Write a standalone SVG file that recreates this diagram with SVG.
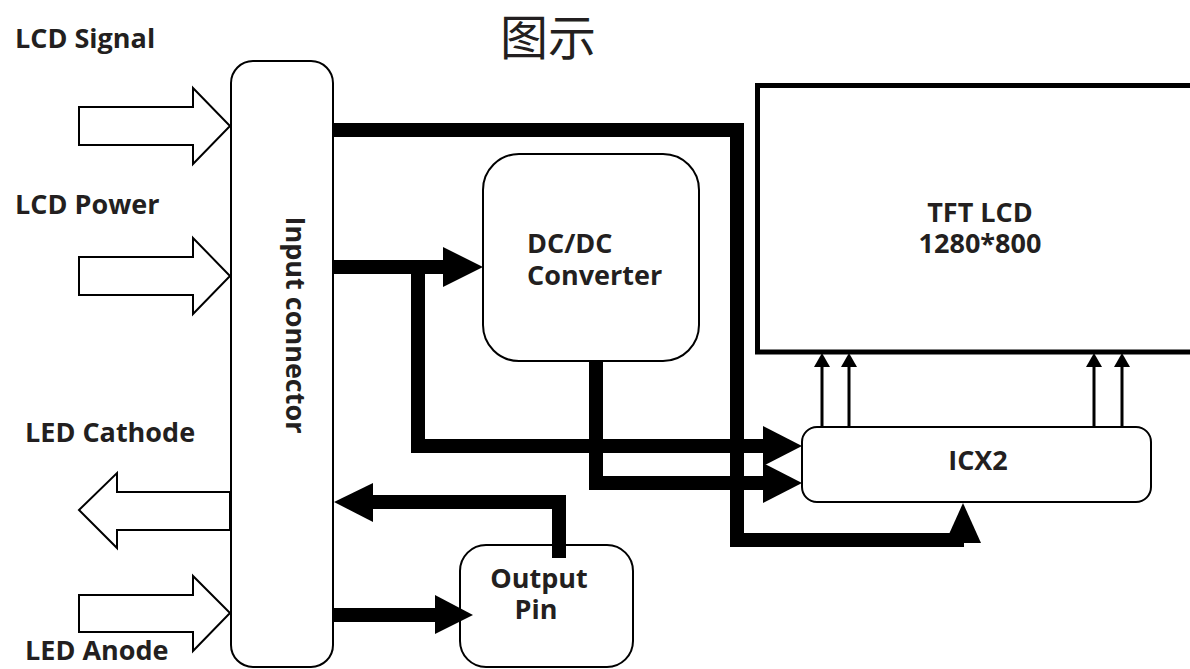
<svg xmlns="http://www.w3.org/2000/svg" width="1190" height="669" viewBox="0 0 1190 669">
<style>
.lbl{font-family:"Open Sans","Noto Sans","Liberation Sans",sans-serif;font-weight:bold;font-size:27px;fill:#231f20}
.box{fill:#fff;stroke:#000;stroke-width:2}
.fat{fill:#fff;stroke:#000;stroke-width:2;stroke-linejoin:miter}
.thick{fill:none;stroke:#000;stroke-width:14;stroke-linejoin:miter;stroke-linecap:butt}
.thin{fill:none;stroke:#000;stroke-width:3}
.head{fill:#000;stroke:none}
</style>
<rect width="1190" height="669" fill="#fff"/>
<text x="548" y="55" text-anchor="middle" style="font-family:'Noto Sans CJK SC',sans-serif;font-size:48px;fill:#231f20">图示</text>

<g id="lcd-signal">
<polygon class="fat" points="79,107 193,107 193,88 230,126 193,164 193,145 79,145"/>
<text class="lbl" x="15" y="48">LCD Signal</text>
</g>
<g id="lcd-power">
<polygon class="fat" points="79,257 193,257 193,238 230,276 193,314 193,295 79,295"/>
<text class="lbl" x="15" y="214">LCD Power</text>
</g>
<g id="led-cathode">
<polygon class="fat" points="230,492 117,492 117,473 79,510 117,548 117,530 230,530"/>
<text class="lbl" x="25" y="442">LED Cathode</text>
</g>
<g id="led-anode">
<polygon class="fat" points="79,595 193,595 193,576 230,613 193,651 193,632 79,632"/>
<text class="lbl" x="25" y="660">LED Anode</text>
</g>

<g id="input-connector">
<rect class="box" x="231" y="61" width="102" height="606" rx="22"/>
<text class="lbl" transform="translate(286,325) rotate(90)" text-anchor="middle">Input connector</text>
</g>

<g id="tft-lcd">
<rect x="757.5" y="85.5" width="460" height="266.5" fill="#fff" stroke="#000" stroke-width="5"/>
<text class="lbl" text-anchor="middle"><tspan x="980" y="222">TFT LCD</tspan><tspan x="980" dy="31">1280*800</tspan></text>
</g>

<g id="dcdc">
<rect class="box" x="483" y="154" width="216" height="207" rx="36"/>
<text class="lbl"><tspan x="527" y="253">DC/DC</tspan><tspan x="527" dy="32">Converter</tspan></text>
</g>

<g id="icx2">
<rect class="box" x="802" y="427" width="349" height="75" rx="15"/>
<text class="lbl" x="978" y="470" text-anchor="middle">ICX2</text>
</g>

<g id="output-pin">
<rect class="box" x="460" y="545" width="173" height="122" rx="26"/>
<text class="lbl" text-anchor="middle"><tspan x="539" y="588">Output</tspan><tspan x="536" dy="31">Pin</tspan></text>
</g>

<g id="connectors">
<path class="thick" d="M333,130 H737 V540 H964"/>
<polygon class="head" points="945,543 981,543 963,503"/>
<path class="thick" d="M333,267 H446"/>
<polygon class="head" points="443,247 483,267 443,287"/>
<path class="thick" d="M418,267 V446 H766"/>
<polygon class="head" points="763,426 802,446 763,466"/>
<path class="thick" d="M596,361 V483 H766"/>
<polygon class="head" points="763,463 802,483 763,503"/>
<path class="thick" d="M559,558 V502 H370"/>
<polygon class="head" points="373,483 334,502 373,522"/>
<path class="thick" d="M333,615 H438"/>
<polygon class="head" points="435,595 473,615 435,634"/>
<path class="thin" d="M822,427 V365 M849,427 V365 M1094,427 V365 M1122,427 V365"/>
<polygon class="head" points="814,367 822,353 830,367"/>
<polygon class="head" points="841,367 849,353 857,367"/>
<polygon class="head" points="1086,367 1094,353 1102,367"/>
<polygon class="head" points="1114,367 1122,353 1130,367"/>
</g>
</svg>
